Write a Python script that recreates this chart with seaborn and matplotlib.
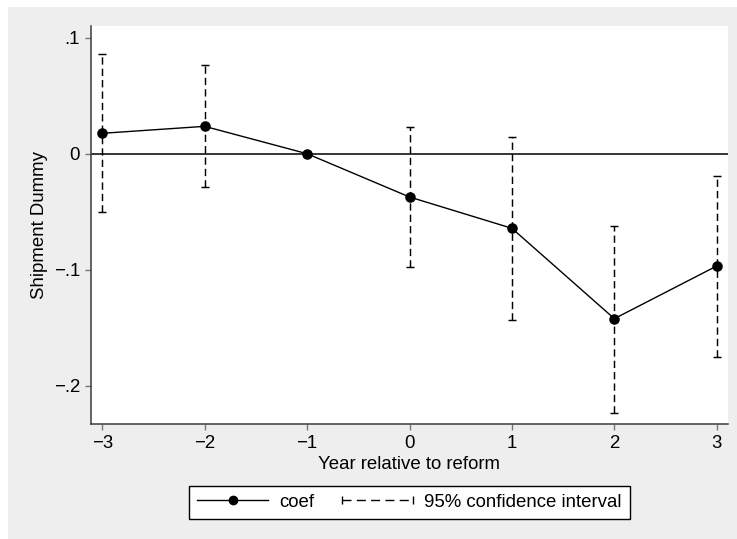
import matplotlib
matplotlib.use("Agg")
import matplotlib.pyplot as plt
from matplotlib.lines import Line2D
from matplotlib.legend_handler import HandlerLine2D
from matplotlib.patches import Rectangle
import numpy as np
import pandas as pd
import seaborn as sns

# ---- data ----
years = [-3, -2, -1, 0, 1, 2, 3]
coef = [0.0176, 0.0236, 0.0, -0.0373, -0.0643, -0.1422, -0.0968]
ci_low = [-0.0503, -0.0284, np.nan, -0.0974, -0.1434, -0.2233, -0.1750]
ci_high = [0.0857, 0.0762, np.nan, 0.0233, 0.0147, -0.0621, -0.0192]
x_ticks = [-3, -2, -1, 0, 1, 2, 3]
x_ticklabels = ["\u22123", "\u22122", "\u22121", "0", "1", "2", "3"]
y_ticks = [-0.2, -0.1, 0.0, 0.1]
y_ticklabels = ["\u2212.2", "\u2212.1", "0", ".1"]

plt.rcParams['font.family'] = ['Liberation Sans', 'DejaVu Sans']
FS = 13.4

fig = plt.figure(figsize=(7.37, 5.39), dpi=100, facecolor='white')
# light gray graph region
fig.patches.append(Rectangle((8 / 737, 0), 1 - 8 / 737, 1 - 7 / 539,
                             transform=fig.transFigure, facecolor='#eeeeee',
                             edgecolor='none', zorder=-5))

ax = fig.add_axes([91 / 737, 1 - 424 / 539, (728 - 91) / 737, (424 - 26) / 539])
ax.set_zorder(1)
ax.set_facecolor('white')

df = pd.DataFrame({"year": years, "coef": coef, "lo": ci_low, "hi": ci_high})
ci = df.dropna()

# zero reference line
ax.axhline(0, color='black', lw=1.1, zorder=1)

# confidence intervals
eb = ax.errorbar(ci["year"], ci["coef"],
                 yerr=[ci["coef"] - ci["lo"], ci["hi"] - ci["coef"]],
                 fmt='none', ecolor='black', elinewidth=1.05,
                 capsize=3.0, capthick=1.05, zorder=2)
for lc in eb[2]:
    lc.set_linestyle((0, (5.0, 2.8)))

# coefficient line
sns.lineplot(data=df, x="year", y="coef", ax=ax, color='black', lw=1.0,
             marker='o', markersize=7.6, markeredgewidth=0, legend=False,
             zorder=3)

ax.set_xlim(-3.11, 3.11)
ax.set_ylim(-0.233, 0.1101)
ax.set_xticks(x_ticks)
ax.set_xticklabels(x_ticklabels)
ax.set_yticks(y_ticks)
ax.set_yticklabels(y_ticklabels)

for s in ['top', 'right']:
    ax.spines[s].set_visible(False)
for s in ['left', 'bottom']:
    ax.spines[s].set_color('#3a3a3a')
    ax.spines[s].set_linewidth(1.1)

ax.tick_params(axis='both', length=4.5, width=1.0, color='#777777',
               labelsize=FS, labelcolor='black', pad=3.5)

ax.set_xlabel("Year relative to reform", fontsize=FS, labelpad=3)
ax.set_ylabel("Shipment Dummy", fontsize=FS, labelpad=4)

# legend
h_coef = Line2D([], [], color='black', lw=1.0, marker='o', markersize=7,
                markeredgewidth=0)
h_ci = Line2D([], [], color='black', lw=1.0, linestyle=(0, (6.5, 3.8)),
              marker='|', markersize=6, markeredgewidth=1.0)
leg = fig.legend([h_coef, h_ci], ["coef", "95% confidence interval"],
                 loc='center', bbox_to_anchor=((187 + 632) / 2 / 737,
                                               1 - (486 + 519) / 2 / 539),
                 ncol=2, fontsize=FS, frameon=True, fancybox=False,
                 edgecolor='black', framealpha=1, facecolor='white',
                 handlelength=3.8, handletextpad=0.6, columnspacing=1.5,
                 borderpad=0.45,
                 handler_map={h_coef: HandlerLine2D(numpoints=1),
                              h_ci: HandlerLine2D(numpoints=2, marker_pad=0)})
leg.get_frame().set_linewidth(1.0)

fig.savefig("out.png", dpi=100, facecolor=fig.get_facecolor())
